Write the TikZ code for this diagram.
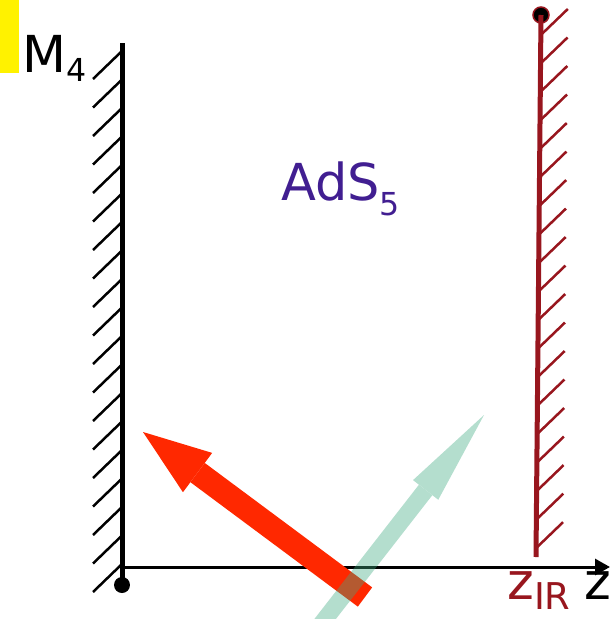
\documentclass[tikz,border=0pt]{standalone}
\usepackage{fontspec}
\setmainfont{DejaVu Sans}
\usepackage{tikz}
\usetikzlibrary{arrows.meta,calc}

\definecolor{wallred}{RGB}{152,22,30}
\definecolor{adspurple}{RGB}{65,30,145}
\definecolor{arrowred}{RGB}{255,40,0}
\definecolor{arrowgreen}{RGB}{62,170,128}

\begin{document}
\begin{tikzpicture}[
    x=0.02cm, y=-0.02cm,
    wall/.style={line width=0.1cm, line cap=butt},
    hatch/.style={line width=0.05cm},
    axisline/.style={line width=0.06cm, -{Triangle[length=0.3cm, width=0.32cm]}},
    dot/.style={circle, inner sep=0pt, minimum size=0.32cm, fill=black},
    txt/.style={inner sep=0pt, anchor=base west, font=\fontsize{29}{34}\selectfont},
    kick/.style={line width=0.48cm, arrowred, -{Triangle[length=1.36cm, width=0.98cm, line width=0pt]}},
    photon/.style={line width=0.34cm, arrowgreen, -{Triangle[length=1.9cm, width=0.64cm, line width=0pt]}}
]
\clip (0,0) rectangle (611,619);

% marker in the corner
\fill[yellow] (0,0) rectangle (19,73);

% UV wall
\coordinate (ltop) at (122,43);
\coordinate (lbot) at (122,585);
\foreach \i in {0,...,18}
    \draw[hatch] (122,51+28.5*\i) -- ++(-29,28);
\draw[wall] (ltop) -- (lbot);

% IR wall
\coordinate (rtop) at (541,15);
\coordinate (rbot) at (536,557);
\foreach \i in {0,...,18} {
    \pgfmathsetmacro\t{0.0369+0.0526*\i}
    \draw[hatch, wallred] ($(rtop)!\t!(rbot)$) -- ++(27,-26);
}
\node[dot, fill=black, draw=wallred, line width=0.03cm] (irdot) at (rtop) {};
\draw[wall, wallred] (rtop) -- (rbot);

% z axis
\coordinate (origin) at (122,567);
\coordinate (zend) at (610,567);
\draw[axisline] (origin) -- (zend);
\node[dot] (uvdot) at (122,585) {};

% arrows
\coordinate (kicktail) at (365,597);
\coordinate (kicktip) at (143,432);
\draw[kick] (kicktail) -- (kicktip);

\coordinate (photontail) at (315,632);
\coordinate (photontip) at (484,415);
\begin{scope}[transparency group, opacity=0.39]
\draw[photon] (photontail) -- (photontip);
\end{scope}

% labels
\node[txt] (mfour) at (22,72) {M\raisebox{-0.18cm}{\fontsize{18}{20}\selectfont 4}};
\node[txt, text=adspurple] (ads) at (281,200) {AdS\raisebox{-0.3cm}{\fontsize{18}{20}\selectfont 5}};
\node[txt, text=wallred] (zir) at (507,599) {z\raisebox{-0.21cm}{\fontsize{21}{23}\selectfont IR}};
\node[txt] (zlab) at (584,599) {z};

\end{tikzpicture}
\end{document}
